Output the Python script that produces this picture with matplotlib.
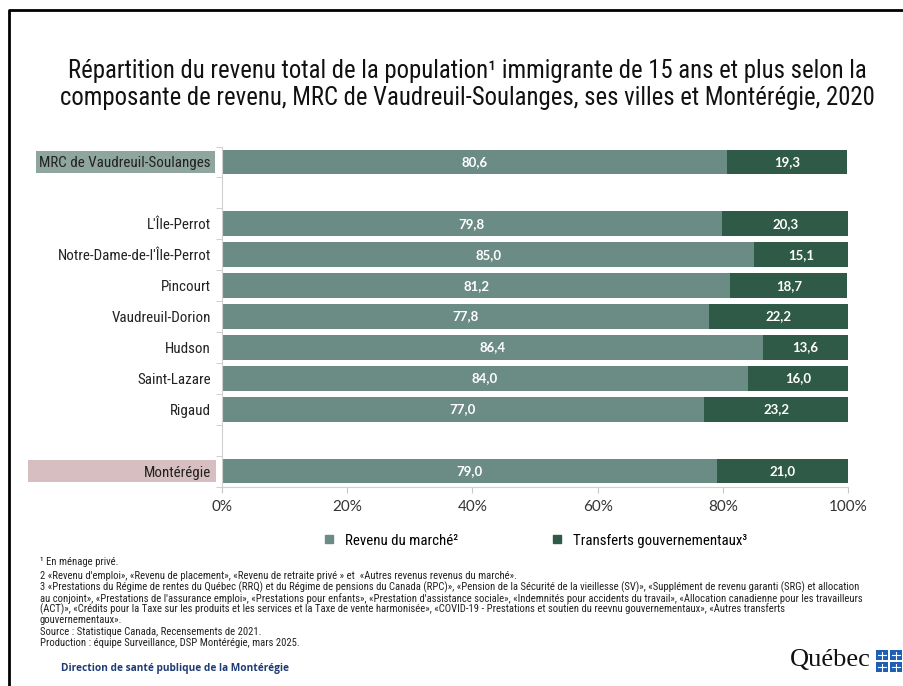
import matplotlib
matplotlib.use("Agg")
from matplotlib import pyplot as plt
from matplotlib.patches import Rectangle
from matplotlib.lines import Line2D
import matplotlib.transforms as mtransforms
import numpy as np

# data
territoires = ["MRC de Vaudreuil-Soulanges", "", "L'Île-Perrot", "Notre-Dame-de-l'Île-Perrot",
               "Pincourt", "Vaudreuil-Dorion", "Hudson", "Saint-Lazare", "Rigaud", "", "Montérégie"]
revenu_marche = [80.6, None, 79.8, 85.0, 81.2, 77.8, 86.4, 84.0, 77.0, None, 79.0]
transferts = [19.3, None, 20.3, 15.1, 18.7, 22.2, 13.6, 16.0, 23.2, None, 21.0]
xticks = [0, 20, 40, 60, 80, 100]

c_marche = "#6b8c85"
c_transf = "#2f5a47"
narrow = ["Roboto Condensed", "Roboto", "DejaVu Sans"]

fig = plt.figure(figsize=(9.04, 6.86), dpi=100)
ax = fig.add_axes([0.2456, 0.2908, 0.6925, 0.4956])

y = np.arange(len(territoires))
for i, (m, t) in enumerate(zip(revenu_marche, transferts)):
    if m is None:
        continue
    ax.barh(i, m, height=0.8, color=c_marche)
    ax.barh(i, t, left=m, height=0.8, color=c_transf)
    ax.text(m / 2, i, f"{m:.1f}".replace(".", ","), color="white", ha="center", va="center",
            fontsize=9.5, family=["Lato", "DejaVu Sans"], fontweight="bold")
    ax.text(m + t / 2, i, f"{t:.1f}".replace(".", ","), color="white", ha="center", va="center",
            fontsize=9.5, family=["Lato", "DejaVu Sans"], fontweight="bold")

ax.set_ylim(len(territoires) - 0.5, -0.5)
ax.set_xlim(0, 100)
ax.set_yticks(y)
ax.set_yticklabels(territoires, family=narrow, fontsize=10.8, color="#222222")
ax.set_yticks(np.arange(-0.5, len(territoires), 1), minor=True)
ax.tick_params(axis="y", which="major", length=0, pad=8)
ax.tick_params(axis="y", which="minor", length=4, color="#c8c8c8", direction="out")
ax.set_xticks(xticks)
ax.set_xticklabels([f"{v}%" for v in xticks], family=["Lato", "DejaVu Sans"], fontsize=11, color="#333333")
ax.tick_params(axis="x", length=4, color="#c8c8c8", pad=6)
for s in ["top", "right"]:
    ax.spines[s].set_visible(False)
for s in ["left", "bottom"]:
    ax.spines[s].set_color("#d0d0d0")

# label backgrounds
tr = mtransforms.blended_transform_factory(ax.transAxes, ax.transData)
ax.add_patch(Rectangle((-0.297, -0.37), 0.286, 0.74, transform=tr, clip_on=False,
                       facecolor="#8ea69e", edgecolor="none", zorder=0))
ax.add_patch(Rectangle((-0.310, 10 - 0.37), 0.300, 0.74, transform=tr, clip_on=False,
                       facecolor="#d6bec1", edgecolor="none", zorder=0))

# legend
handles = [Line2D([], [], marker="s", linestyle="none", color=c_marche, markersize=6),
           Line2D([], [], marker="s", linestyle="none", color=c_transf, markersize=6)]
fig.legend(handles, ["Revenu du marché²", "Transferts gouvernementaux³"],
           loc="center", bbox_to_anchor=(0.587, 0.212), ncol=2, frameon=False,
           prop={"family": narrow, "size": 10.7}, handletextpad=0.1, columnspacing=5.6)

# title
fig.text(0.517, 0.877,
         "Répartition du revenu total de la population¹ immigrante de 15 ans et plus selon la\n"
         "composante de revenu, MRC de Vaudreuil-Soulanges, ses villes et Montérégie, 2020",
         ha="center", va="center", fontsize=17.8, family=narrow, linespacing=1.15, color="#111111")

# footnotes
notes = [
    (0.181, "¹ En ménage privé."),
    (0.160, "2 «Revenu d'emploi», «Revenu de placement», «Revenu de retraite privé » et  «Autres revenus revenus du marché»."),
    (0.144, "3 «Prestations du Régime de rentes du Québec (RRQ) et du Régime de pensions du Canada (RPC)», «Pension de la Sécurité de la vieillesse (SV)», «Supplément de revenu garanti (SRG) et allocation"),
    (0.128, "au conjoint», «Prestations de l'assurance emploi», «Prestations pour enfants», «Prestation d'assistance sociale», «Indemnités pour accidents du travail», «Allocation canadienne pour les travailleurs"),
    (0.112, "(ACT)», «Crédits pour la Taxe sur les produits et les services et la Taxe de vente harmonisée», «COVID-19 - Prestations et soutien du reevnu gouvernementaux», «Autres transferts"),
    (0.096, "gouvernementaux»."),
    (0.079, "Source : Statistique Canada, Recensements de 2021."),
    (0.063, "Production : équipe Surveillance, DSP Montérégie, mars 2025."),
]
for yy, txt in notes:
    fig.text(0.044, yy, txt, fontsize=7.7, family=narrow, color="#222222", va="center")
fig.text(0.068, 0.026, "Direction de santé publique de la Montérégie", fontsize=7.3, family=["Open Sans", "DejaVu Sans"],
         fontweight="bold", color="#1f3b73", va="center")

# Québec logo
fig.text(0.963, 0.038, "Québec", fontsize=19, family=["Liberation Serif", "DejaVu Serif"],
         color="#111111", ha="right", va="center")
for dx in (0, 0.0155):
    for dy in (0, 0.0175):
        x0, y0 = 0.969 + dx, 0.020 + dy
        fig.patches.append(Rectangle((x0, y0), 0.0135, 0.0145,
                                     transform=fig.transFigure, facecolor="#1e5fb4", edgecolor="none"))
        fig.lines.append(Line2D([x0 + 0.00675] * 2, [y0 + 0.002, y0 + 0.0125],
                                transform=fig.transFigure, color="white", lw=0.8))
        fig.lines.append(Line2D([x0 + 0.002, x0 + 0.0115], [y0 + 0.00725] * 2,
                                transform=fig.transFigure, color="white", lw=0.8))

# frame
fig.lines.append(Line2D([0.010, 0.010, 1.0], [0.0, 0.985, 0.985], transform=fig.transFigure,
                        color="black", lw=2))

fig.savefig("out.png", dpi=100)
